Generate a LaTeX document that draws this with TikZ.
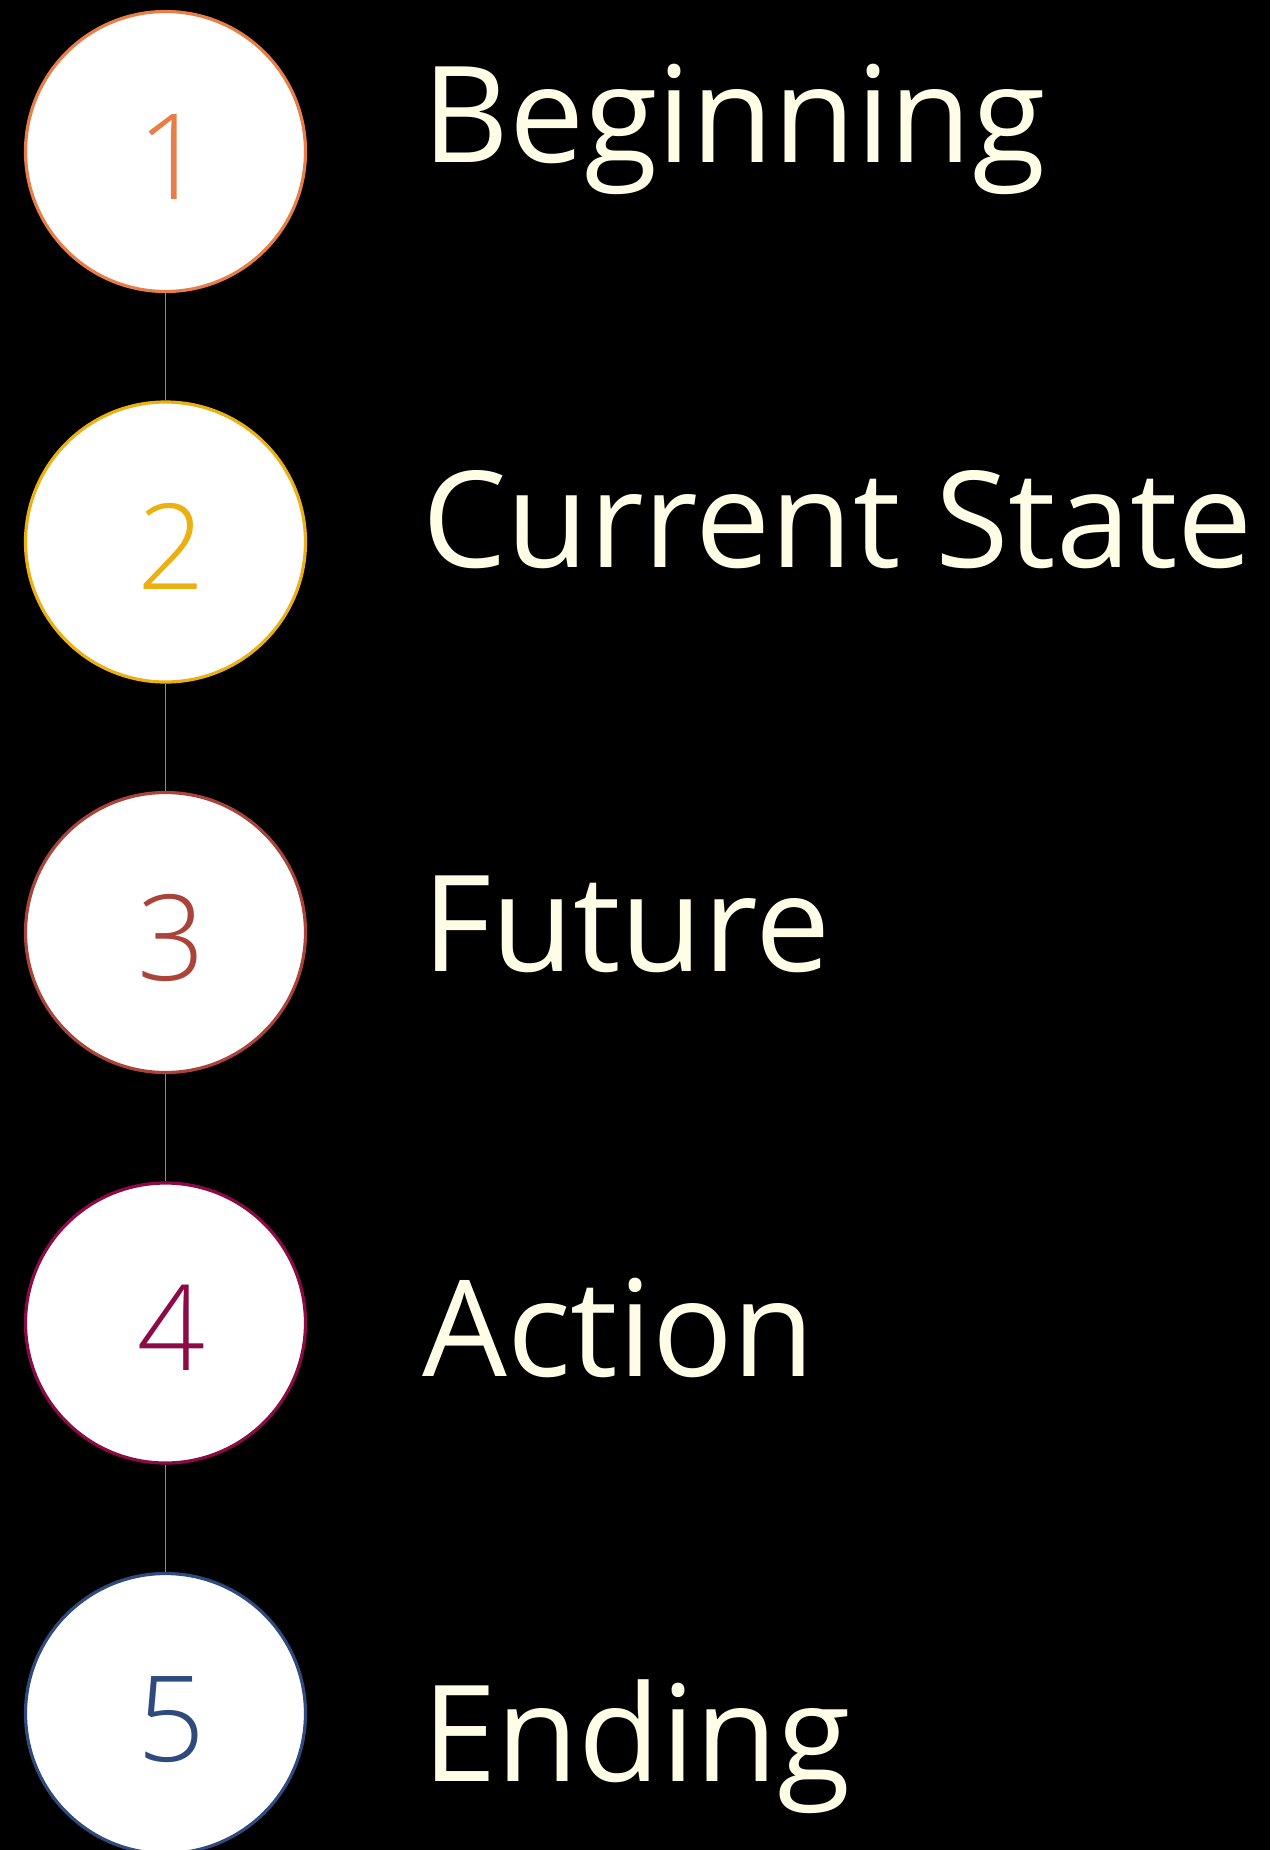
\documentclass[tikz,border=0pt]{standalone}
\usepackage{fontspec}
\setmainfont{Open Sans}
\IfFontExistsTF{Open Sans Light}{\newfontfamily\numfont{Open Sans Light}}{%
  \IfFontExistsTF{Lato Light}{\newfontfamily\numfont{Lato Light}}{\newfontfamily\numfont{Open Sans}}}
\definecolor{cOne}{HTML}{E87D45}
\definecolor{cTwo}{HTML}{EBB012}
\definecolor{cThree}{HTML}{AA443A}
\definecolor{cFour}{HTML}{8C0A46}
\definecolor{cFive}{HTML}{2F4A7D}
\definecolor{cream}{HTML}{FFFDE6}
\definecolor{connGray}{HTML}{8A8A8A}
\tikzset{
  stepcircle/.style={circle, draw=#1, line width=3.2pt, fill=white, minimum size=280pt, inner sep=0pt},
  digit/.style={text=#1, font=\numfont\fontsize{119}{140}\selectfont, inner sep=0pt, anchor=base},
  lbl/.style={text=cream, font=\fontsize{134}{160}\selectfont, inner sep=0pt, anchor=base west},
  conn/.style={draw=connGray, line width=1.5pt}
}
\begin{document}
\begin{tikzpicture}[x=1pt,y=-1pt]
\fill[black] (0,0) rectangle (1270,1850);
\useasboundingbox (0,0) rectangle (1270,1850);
% circles
\node[stepcircle=cOne]   (c1) at (165.5,151.5) {};
\node[stepcircle=cTwo]   (c2) at (165.5,542) {};
\node[stepcircle=cThree] (c3) at (165.5,932.5) {};
\node[stepcircle=cFour]  (c4) at (165.5,1323) {};
\node[stepcircle=cFive]  (c5) at (165.5,1713.5) {};
% connectors
\draw[conn] (c1.south) -- (c2.north);
\draw[conn] (c2.south) -- (c3.north);
\draw[conn] (c3.south) -- (c4.north);
\draw[conn] (c4.south) -- (c5.north);
% digits
\node[digit=cOne]   (d1) at (171.5,199) {1};
\node[digit=cTwo]   (d2) at (171.5,589.5) {2};
\node[digit=cThree] (d3) at (171.5,980) {3};
\node[digit=cFour]  (d4) at (171.5,1370.5) {4};
\node[digit=cFive]  (d5) at (171.5,1761) {5};
% labels
\node[lbl] (t1) at (422,162) {Beginning};
\node[lbl] (t2) at (422,567) {Current State};
\node[lbl] (t3) at (422,971) {Future};
\node[lbl] (t4) at (422,1376) {Action};
\node[lbl] (t5) at (422,1781) {Ending};
\end{tikzpicture}
\end{document}
